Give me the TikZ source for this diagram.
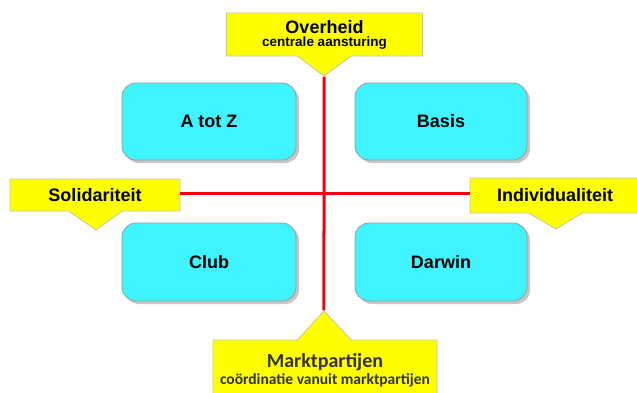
\documentclass[tikz,border=0pt]{standalone}
\usepackage{fontspec}
\setmainfont{Liberation Sans}
\newfontfamily\carlito{Carlito}
\usepackage{tikz}
\usetikzlibrary{shapes.callouts,shadows}

\definecolor{boxcyan}{HTML}{40F4FF}
\definecolor{boxline}{HTML}{9A9A9A}
\definecolor{calyellow}{HTML}{FFFF00}
\definecolor{calline}{HTML}{C4C4A8}
\definecolor{axisred}{HTML}{F00010}
\definecolor{darktext}{HTML}{333333}

\tikzset{
  quadrant/.style={draw=boxline, fill=boxcyan, rounded corners=14pt, line width=0.8pt,
    drop shadow={shadow xshift=3pt, shadow yshift=-3pt, opacity=0.45},
    font=\fontsize{18}{20}\selectfont\bfseries},
  label box/.style={rectangle callout, draw=calline, fill=calyellow, line width=0.8pt,
    callout pointer width=54pt, align=center, inner sep=0pt},
  axis/.style={draw=axisred, line width=3pt}
}

\begin{document}
\begin{tikzpicture}[x=1pt,y=-1pt]
\useasboundingbox (0,0) rectangle (637,392);
% kwadranten
\node[quadrant, minimum width=174pt, minimum height=77pt] (atotz) at (209,121.5) {A tot Z};
\node[quadrant, minimum width=172pt, minimum height=77pt] (basis) at (441,121.5) {Basis};
\node[quadrant, minimum width=174pt, minimum height=78pt] (club) at (209,262) {Club};
\node[quadrant, minimum width=172pt, minimum height=78pt] (darwin) at (441,262) {Darwin};
% labels op de assen
\node[label box, minimum width=196pt, minimum height=43pt, callout absolute pointer={(324,76)}]
  (overheid) at (324.5,34.5)
  {{\fontsize{18}{20}\selectfont\bfseries Overheid}\\[1pt]
   {\fontsize{13.5}{15}\selectfont\bfseries centrale aansturing}};
\node[label box, minimum width=170pt, minimum height=32pt, callout absolute pointer={(96,230)}]
  (solid) at (95,195) {\fontsize{18}{20}\selectfont\bfseries Solidariteit};
\node[label box, minimum width=170pt, minimum height=35pt, callout absolute pointer={(556,229)}]
  (indiv) at (555,195.5) {\fontsize{18}{20}\selectfont\bfseries Individualiteit};
\node[label box, minimum width=224pt, minimum height=60pt, callout absolute pointer={(324,311)},
  text=darktext, font=\carlito\bfseries]
  (markt) at (325,370)
  {{\fontsize{20}{22}\selectfont Marktpartijen}\\[2pt]
   {\fontsize{15.5}{17}\selectfont coördinatie vanuit marktpartijen}};
% assen
\draw[axis] (overheid.pointer) -- (markt.pointer);
\draw[axis] ([yshift=1.5pt]solid.east) -- ([yshift=1.5pt]solid.east -| indiv.west);
\end{tikzpicture}
\end{document}
